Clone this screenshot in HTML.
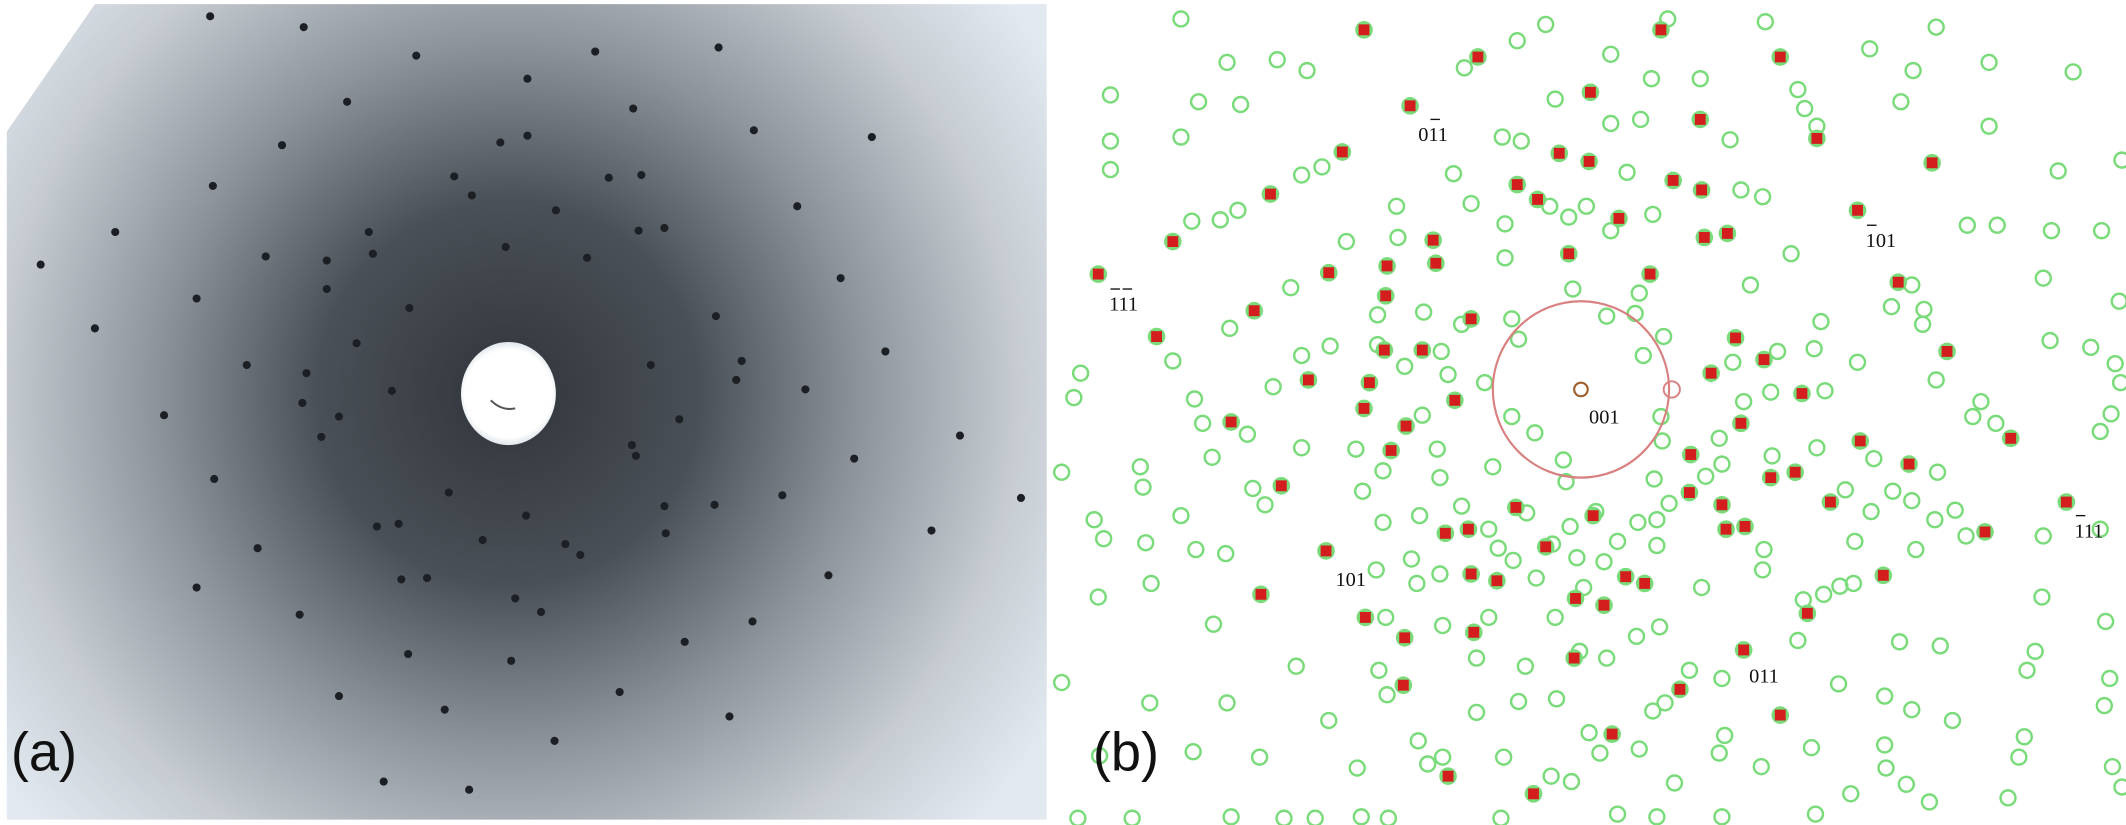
<!DOCTYPE html>
<html><head><meta charset="utf-8"><style>html,body{margin:0;padding:0;background:#fff;overflow:hidden}svg{display:block}</style></head>
<body>
<svg width="2126" height="825" viewBox="0 0 1568 608" preserveAspectRatio="none" xmlns="http://www.w3.org/2000/svg" xmlns:xlink="http://www.w3.org/1999/xlink">
<defs>
<radialGradient id="g" cx="375" cy="290" r="470" gradientUnits="userSpaceOnUse">
<stop offset="0" stop-color="#30353a"/>
<stop offset="0.3" stop-color="#4a5057"/>
<stop offset="0.55" stop-color="#8c939a"/>
<stop offset="0.8" stop-color="#c6ccd2"/>
<stop offset="1" stop-color="#e2e9f0"/>
</radialGradient>
<radialGradient id="w" cx="375" cy="290" r="38" gradientUnits="userSpaceOnUse">
<stop offset="0.85" stop-color="#ffffff"/><stop offset="1" stop-color="#dfe6ea"/>
</radialGradient>
<circle id="c" r="5.5" fill="none" stroke="#79db79" stroke-width="1.8"/>
</defs>
<rect width="1568" height="608" fill="#fff"/>
<polygon points="5,97 70,3 772,3 772,604 5,604" fill="url(#g)"/>
<ellipse cx="375" cy="290" rx="35" ry="38" fill="url(#w)"/>
<path d="M362,295 q8,8 18,6" stroke="#555" stroke-width="1.5" fill="none"/>
<path stroke="#1c2025" stroke-width="6" stroke-linecap="round" fill="none" d="M155 12h0M224 20h0M307 41h0M439 38h0M530 35h0M256 75h0M389 58h0M467 80h0M556 96h0M208 107h0M369 105h0M389 100h0M643 101h0M335 130h0M449 131h0M473 129h0M157 137h0M348 144h0M410 155h0M588 152h0M85 171h0M272 171h0M471 170h0M490 168h0M30 195h0M196 189h0M241 192h0M275 187h0M373 182h0M433 190h0M620 205h0M145 220h0M241 213h0M302 227h0M528 233h0M70 242h0M263 253h0M182 269h0M547 266h0M653 259h0M226 275h0M480 269h0M289 288h0M223 297h0M594 287h0M121 306h0M250 307h0M543 280h0M466 328h0M237 322h0M708 321h0M501 309h0M158 353h0M469 336h0M630 338h0M331 363h0M490 373h0M527 372h0M577 365h0M753 367h0M388 380h0M278 388h0M294 386h0M687 391h0M190 404h0M356 398h0M417 401h0M491 393h0M428 409h0M145 433h0M296 427h0M315 426h0M380 441h0M611 424h0M221 453h0M399 451h0M555 458h0M301 482h0M377 487h0M505 473h0M250 513h0M457 510h0M328 523h0M538 528h0M409 546h0M283 576h0M346 582h0"/>
<text x="8" y="568" font-family="Liberation Sans, sans-serif" font-size="40" fill="#111">(a)</text>
<g>
<use xlink:href="#c" x="871" y="14"/><use xlink:href="#c" x="1140" y="18"/><use xlink:href="#c" x="1230" y="14"/><use xlink:href="#c" x="1302" y="16"/><use xlink:href="#c" x="1428" y="20"/><use xlink:href="#c" x="1119" y="30"/><use xlink:href="#c" x="905" y="46"/><use xlink:href="#c" x="942" y="44"/><use xlink:href="#c" x="964" y="52"/><use xlink:href="#c" x="1080" y="50"/><use xlink:href="#c" x="1188" y="40"/><use xlink:href="#c" x="1379" y="36"/><use xlink:href="#c" x="1411" y="52"/><use xlink:href="#c" x="1467" y="46"/><use xlink:href="#c" x="1529" y="53"/><use xlink:href="#c" x="819" y="70"/><use xlink:href="#c" x="884" y="75"/><use xlink:href="#c" x="915" y="77"/><use xlink:href="#c" x="1218" y="58"/><use xlink:href="#c" x="1254" y="58"/><use xlink:href="#c" x="1147" y="73"/><use xlink:href="#c" x="1326" y="66"/><use xlink:href="#c" x="1331" y="80"/><use xlink:href="#c" x="1402" y="75"/><use xlink:href="#c" x="819" y="104"/><use xlink:href="#c" x="871" y="101"/><use xlink:href="#c" x="1108" y="101"/><use xlink:href="#c" x="1122" y="104"/><use xlink:href="#c" x="1188" y="91"/><use xlink:href="#c" x="1210" y="88"/><use xlink:href="#c" x="1276" y="103"/><use xlink:href="#c" x="1340" y="93"/><use xlink:href="#c" x="1467" y="93"/><use xlink:href="#c" x="819" y="125"/><use xlink:href="#c" x="960" y="129"/><use xlink:href="#c" x="975" y="123"/><use xlink:href="#c" x="1072" y="128"/><use xlink:href="#c" x="1200" y="127"/><use xlink:href="#c" x="1284" y="140"/><use xlink:href="#c" x="1300" y="145"/><use xlink:href="#c" x="1518" y="126"/><use xlink:href="#c" x="1565" y="118"/><use xlink:href="#c" x="1030" y="152"/><use xlink:href="#c" x="1085" y="150"/><use xlink:href="#c" x="1143" y="152"/><use xlink:href="#c" x="1157" y="160"/><use xlink:href="#c" x="1170" y="152"/><use xlink:href="#c" x="1219" y="158"/><use xlink:href="#c" x="879" y="163"/><use xlink:href="#c" x="900" y="162"/><use xlink:href="#c" x="913" y="155"/><use xlink:href="#c" x="993" y="178"/><use xlink:href="#c" x="1110" y="165"/><use xlink:href="#c" x="1188" y="170"/><use xlink:href="#c" x="1321" y="187"/><use xlink:href="#c" x="1451" y="166"/><use xlink:href="#c" x="1473" y="166"/><use xlink:href="#c" x="1513" y="170"/><use xlink:href="#c" x="1550" y="170"/><use xlink:href="#c" x="952" y="212"/><use xlink:href="#c" x="1031" y="175"/><use xlink:href="#c" x="1110" y="190"/><use xlink:href="#c" x="1160" y="213"/><use xlink:href="#c" x="1209" y="216"/><use xlink:href="#c" x="1291" y="210"/><use xlink:href="#c" x="1507" y="205"/><use xlink:href="#c" x="1410" y="210"/><use xlink:href="#c" x="907" y="242"/><use xlink:href="#c" x="1016" y="232"/><use xlink:href="#c" x="1050" y="230"/><use xlink:href="#c" x="1078" y="239"/><use xlink:href="#c" x="1115" y="235"/><use xlink:href="#c" x="1185" y="233"/><use xlink:href="#c" x="1206" y="231"/><use xlink:href="#c" x="1343" y="237"/><use xlink:href="#c" x="1395" y="226"/><use xlink:href="#c" x="1419" y="228"/><use xlink:href="#c" x="1418" y="239"/><use xlink:href="#c" x="1563" y="222"/><use xlink:href="#c" x="865" y="266"/><use xlink:href="#c" x="960" y="262"/><use xlink:href="#c" x="981" y="255"/><use xlink:href="#c" x="1016" y="254"/><use xlink:href="#c" x="1063" y="259"/><use xlink:href="#c" x="1120" y="250"/><use xlink:href="#c" x="1227" y="248"/><use xlink:href="#c" x="1338" y="257"/><use xlink:href="#c" x="1311" y="259"/><use xlink:href="#c" x="1512" y="251"/><use xlink:href="#c" x="1542" y="256"/><use xlink:href="#c" x="1560" y="268"/><use xlink:href="#c" x="797" y="275"/><use xlink:href="#c" x="939" y="285"/><use xlink:href="#c" x="1036" y="270"/><use xlink:href="#c" x="1068" y="276"/><use xlink:href="#c" x="1095" y="282"/><use xlink:href="#c" x="1212" y="262"/><use xlink:href="#c" x="1278" y="267"/><use xlink:href="#c" x="1370" y="267"/><use xlink:href="#c" x="1428" y="280"/><use xlink:href="#c" x="1564" y="282"/><use xlink:href="#c" x="792" y="293"/><use xlink:href="#c" x="881" y="294"/><use xlink:href="#c" x="1049" y="306"/><use xlink:href="#c" x="1115" y="307"/><use xlink:href="#c" x="1225" y="307"/><use xlink:href="#c" x="1286" y="296"/><use xlink:href="#c" x="1306" y="289"/><use xlink:href="#c" x="1346" y="288"/><use xlink:href="#c" x="1461" y="296"/><use xlink:href="#c" x="1557" y="305"/><use xlink:href="#c" x="783" y="348"/><use xlink:href="#c" x="887" y="312"/><use xlink:href="#c" x="920" y="320"/><use xlink:href="#c" x="960" y="330"/><use xlink:href="#c" x="1000" y="331"/><use xlink:href="#c" x="1060" y="331"/><use xlink:href="#c" x="1132" y="319"/><use xlink:href="#c" x="1226" y="325"/><use xlink:href="#c" x="1268" y="323"/><use xlink:href="#c" x="1340" y="330"/><use xlink:href="#c" x="1455" y="307"/><use xlink:href="#c" x="1549" y="318"/><use xlink:href="#c" x="1472" y="312"/><use xlink:href="#c" x="841" y="344"/><use xlink:href="#c" x="894" y="337"/><use xlink:href="#c" x="1020" y="347"/><use xlink:href="#c" x="1062" y="352"/><use xlink:href="#c" x="1101" y="344"/><use xlink:href="#c" x="1153" y="339"/><use xlink:href="#c" x="1220" y="353"/><use xlink:href="#c" x="1258" y="351"/><use xlink:href="#c" x="1270" y="342"/><use xlink:href="#c" x="1307" y="336"/><use xlink:href="#c" x="1382" y="338"/><use xlink:href="#c" x="1429" y="348"/><use xlink:href="#c" x="1361" y="361"/><use xlink:href="#c" x="843" y="359"/><use xlink:href="#c" x="924" y="360"/><use xlink:href="#c" x="933" y="372"/><use xlink:href="#c" x="1005" y="362"/><use xlink:href="#c" x="1078" y="373"/><use xlink:href="#c" x="1155" y="355"/><use xlink:href="#c" x="1231" y="371"/><use xlink:href="#c" x="1396" y="362"/><use xlink:href="#c" x="1442" y="376"/><use xlink:href="#c" x="807" y="383"/><use xlink:href="#c" x="871" y="380"/><use xlink:href="#c" x="1020" y="385"/><use xlink:href="#c" x="1047" y="380"/><use xlink:href="#c" x="1098" y="390"/><use xlink:href="#c" x="1126" y="378"/><use xlink:href="#c" x="1158" y="388"/><use xlink:href="#c" x="1177" y="377"/><use xlink:href="#c" x="1208" y="385"/><use xlink:href="#c" x="1222" y="383"/><use xlink:href="#c" x="814" y="397"/><use xlink:href="#c" x="845" y="400"/><use xlink:href="#c" x="882" y="405"/><use xlink:href="#c" x="904" y="408"/><use xlink:href="#c" x="1041" y="412"/><use xlink:href="#c" x="1105" y="404"/><use xlink:href="#c" x="1145" y="401"/><use xlink:href="#c" x="1193" y="399"/><use xlink:href="#c" x="1222" y="402"/><use xlink:href="#c" x="1301" y="405"/><use xlink:href="#c" x="1427" y="383"/><use xlink:href="#c" x="1410" y="369"/><use xlink:href="#c" x="1380" y="377"/><use xlink:href="#c" x="1368" y="399"/><use xlink:href="#c" x="1450" y="395"/><use xlink:href="#c" x="1015" y="420"/><use xlink:href="#c" x="1045" y="430"/><use xlink:href="#c" x="1062" y="423"/><use xlink:href="#c" x="1116" y="413"/><use xlink:href="#c" x="1163" y="411"/><use xlink:href="#c" x="1183" y="414"/><use xlink:href="#c" x="1300" y="420"/><use xlink:href="#c" x="1330" y="442"/><use xlink:href="#c" x="1345" y="438"/><use xlink:href="#c" x="1357" y="432"/><use xlink:href="#c" x="1413" y="405"/><use xlink:href="#c" x="1507" y="395"/><use xlink:href="#c" x="1549" y="390"/><use xlink:href="#c" x="810" y="440"/><use xlink:href="#c" x="849" y="430"/><use xlink:href="#c" x="1133" y="426"/><use xlink:href="#c" x="1168" y="433"/><use xlink:href="#c" x="1255" y="433"/><use xlink:href="#c" x="1367" y="430"/><use xlink:href="#c" x="1506" y="440"/><use xlink:href="#c" x="895" y="460"/><use xlink:href="#c" x="1022" y="455"/><use xlink:href="#c" x="1064" y="461"/><use xlink:href="#c" x="1098" y="455"/><use xlink:href="#c" x="1147" y="455"/><use xlink:href="#c" x="1207" y="469"/><use xlink:href="#c" x="1224" y="462"/><use xlink:href="#c" x="1326" y="472"/><use xlink:href="#c" x="1501" y="480"/><use xlink:href="#c" x="1553" y="458"/><use xlink:href="#c" x="783" y="503"/><use xlink:href="#c" x="956" y="491"/><use xlink:href="#c" x="1017" y="494"/><use xlink:href="#c" x="1023" y="512"/><use xlink:href="#c" x="1089" y="485"/><use xlink:href="#c" x="1125" y="491"/><use xlink:href="#c" x="1165" y="480"/><use xlink:href="#c" x="1185" y="485"/><use xlink:href="#c" x="1246" y="494"/><use xlink:href="#c" x="1401" y="473"/><use xlink:href="#c" x="1431" y="476"/><use xlink:href="#c" x="1495" y="494"/><use xlink:href="#c" x="848" y="518"/><use xlink:href="#c" x="905" y="518"/><use xlink:href="#c" x="1089" y="525"/><use xlink:href="#c" x="1120" y="517"/><use xlink:href="#c" x="1148" y="515"/><use xlink:href="#c" x="1270" y="500"/><use xlink:href="#c" x="1356" y="504"/><use xlink:href="#c" x="1390" y="513"/><use xlink:href="#c" x="980" y="531"/><use xlink:href="#c" x="1046" y="546"/><use xlink:href="#c" x="1053" y="563"/><use xlink:href="#c" x="1109" y="558"/><use xlink:href="#c" x="1172" y="540"/><use xlink:href="#c" x="1209" y="552"/><use xlink:href="#c" x="1219" y="524"/><use xlink:href="#c" x="1228" y="518"/><use xlink:href="#c" x="1272" y="542"/><use xlink:href="#c" x="1410" y="523"/><use xlink:href="#c" x="1440" y="531"/><use xlink:href="#c" x="1493" y="543"/><use xlink:href="#c" x="1556" y="500"/><use xlink:href="#c" x="1552" y="520"/><use xlink:href="#c" x="811" y="557"/><use xlink:href="#c" x="880" y="554"/><use xlink:href="#c" x="929" y="558"/><use xlink:href="#c" x="1001" y="566"/><use xlink:href="#c" x="1064" y="558"/><use xlink:href="#c" x="1180" y="555"/><use xlink:href="#c" x="1268" y="555"/><use xlink:href="#c" x="1336" y="551"/><use xlink:href="#c" x="1390" y="549"/><use xlink:href="#c" x="1489" y="558"/><use xlink:href="#c" x="1144" y="572"/><use xlink:href="#c" x="1159" y="576"/><use xlink:href="#c" x="1235" y="577"/><use xlink:href="#c" x="1299" y="565"/><use xlink:href="#c" x="1365" y="585"/><use xlink:href="#c" x="1391" y="566"/><use xlink:href="#c" x="1406" y="578"/><use xlink:href="#c" x="795" y="603"/><use xlink:href="#c" x="835" y="603"/><use xlink:href="#c" x="908" y="602"/><use xlink:href="#c" x="947" y="603"/><use xlink:href="#c" x="970" y="603"/><use xlink:href="#c" x="1004" y="602"/><use xlink:href="#c" x="1024" y="603"/><use xlink:href="#c" x="1107" y="603"/><use xlink:href="#c" x="1193" y="600"/><use xlink:href="#c" x="1222" y="602"/><use xlink:href="#c" x="1270" y="602"/><use xlink:href="#c" x="1339" y="600"/><use xlink:href="#c" x="1423" y="591"/><use xlink:href="#c" x="1481" y="588"/><use xlink:href="#c" x="1558" y="565"/><use xlink:href="#c" x="1565" y="580"/>
</g>
<path stroke="#79db79" stroke-width="13" stroke-linecap="round" fill="none" d="M1006 22h0M1090 42h0M1040 78h0M990 112h0M937 143h0M865 178h0M810 202h0M853 248h0M925 229h0M945 358h0M908 311h0M978 406h0M930 438h0M1007 455h0M1035 505h0M1068 572h0M1131 585h0M1189 541h0M1239 508h0M1286 479h0M1313 527h0M1333 452h0M1389 424h0M1464 392h0M1524 370h0M1483 323h0M1436 259h0M1400 208h0M1370 155h0M1425 120h0M1340 102h0M1313 42h0M1254 88h0M1173 68h0M1225 22h0M1150 113h0M1172 119h0M1119 136h0M1134 147h0M1194 161h0M1234 133h0M1255 140h0M1057 177h0M1059 194h0M1157 187h0M1217 202h0M1257 175h0M1274 172h0M980 201h0M1023 196h0M1022 218h0M1021 258h0M1049 258h0M1085 235h0M965 280h0M1010 282h0M1006 301h0M1073 295h0M1037 314h0M1026 332h0M1280 249h0M1262 275h0M1301 265h0M1329 290h0M1284 312h0M1247 335h0M1306 352h0M1324 348h0M1372 325h0M1350 370h0M1408 342h0M1287 388h0M1270 372h0M1273 390h0M1246 363h0M1175 380h0M1118 374h0M1140 403h0M1066 393h0M1083 390h0M1085 423h0M1104 428h0M1087 466h0M1162 441h0M1183 446h0M1199 425h0M1213 430h0M1161 485h0M1036 470h0"/>
<path stroke="#d41e1e" stroke-width="8" stroke-linecap="square" fill="none" d="M1006 22h0M1090 42h0M1040 78h0M990 112h0M937 143h0M865 178h0M810 202h0M853 248h0M925 229h0M945 358h0M908 311h0M978 406h0M930 438h0M1007 455h0M1035 505h0M1068 572h0M1131 585h0M1189 541h0M1239 508h0M1286 479h0M1313 527h0M1333 452h0M1389 424h0M1464 392h0M1524 370h0M1483 323h0M1436 259h0M1400 208h0M1370 155h0M1425 120h0M1340 102h0M1313 42h0M1254 88h0M1173 68h0M1225 22h0M1150 113h0M1172 119h0M1119 136h0M1134 147h0M1194 161h0M1234 133h0M1255 140h0M1057 177h0M1059 194h0M1157 187h0M1217 202h0M1257 175h0M1274 172h0M980 201h0M1023 196h0M1022 218h0M1021 258h0M1049 258h0M1085 235h0M965 280h0M1010 282h0M1006 301h0M1073 295h0M1037 314h0M1026 332h0M1280 249h0M1262 275h0M1301 265h0M1329 290h0M1284 312h0M1247 335h0M1306 352h0M1324 348h0M1372 325h0M1350 370h0M1408 342h0M1287 388h0M1270 372h0M1273 390h0M1246 363h0M1175 380h0M1118 374h0M1140 403h0M1066 393h0M1083 390h0M1085 423h0M1104 428h0M1087 466h0M1162 441h0M1183 446h0M1199 425h0M1213 430h0M1161 485h0M1036 470h0"/>
<circle cx="1166" cy="287" r="65" fill="none" stroke="#d98080" stroke-width="1.6"/>
<circle cx="1166" cy="287" r="5" fill="none" stroke="#a0602d" stroke-width="1.6"/>
<circle cx="1233" cy="287" r="6" fill="none" stroke="#d98080" stroke-width="1.4"/>
<g font-family="Liberation Serif, serif" font-size="15" fill="#111">
<text x="1172" y="312">001</text>
<text x="1046" y="104">011</text><line x1="1055" y1="88" x2="1062" y2="88" stroke="#111"/>
<text x="1376" y="182">101</text><line x1="1377" y1="166" x2="1384" y2="166" stroke="#111"/>
<text x="818" y="229">111</text><line x1="819" y1="213" x2="826" y2="213" stroke="#111"/><line x1="828" y1="213" x2="835" y2="213" stroke="#111"/>
<text x="1530" y="396">111</text><line x1="1531" y1="380" x2="1538" y2="380" stroke="#111"/>
<text x="985" y="432">101</text>
<text x="1290" y="503">011</text>
</g>
<text x="806" y="568" font-family="Liberation Sans, sans-serif" font-size="40" fill="#111">(b)</text>
</svg>
</body></html>
